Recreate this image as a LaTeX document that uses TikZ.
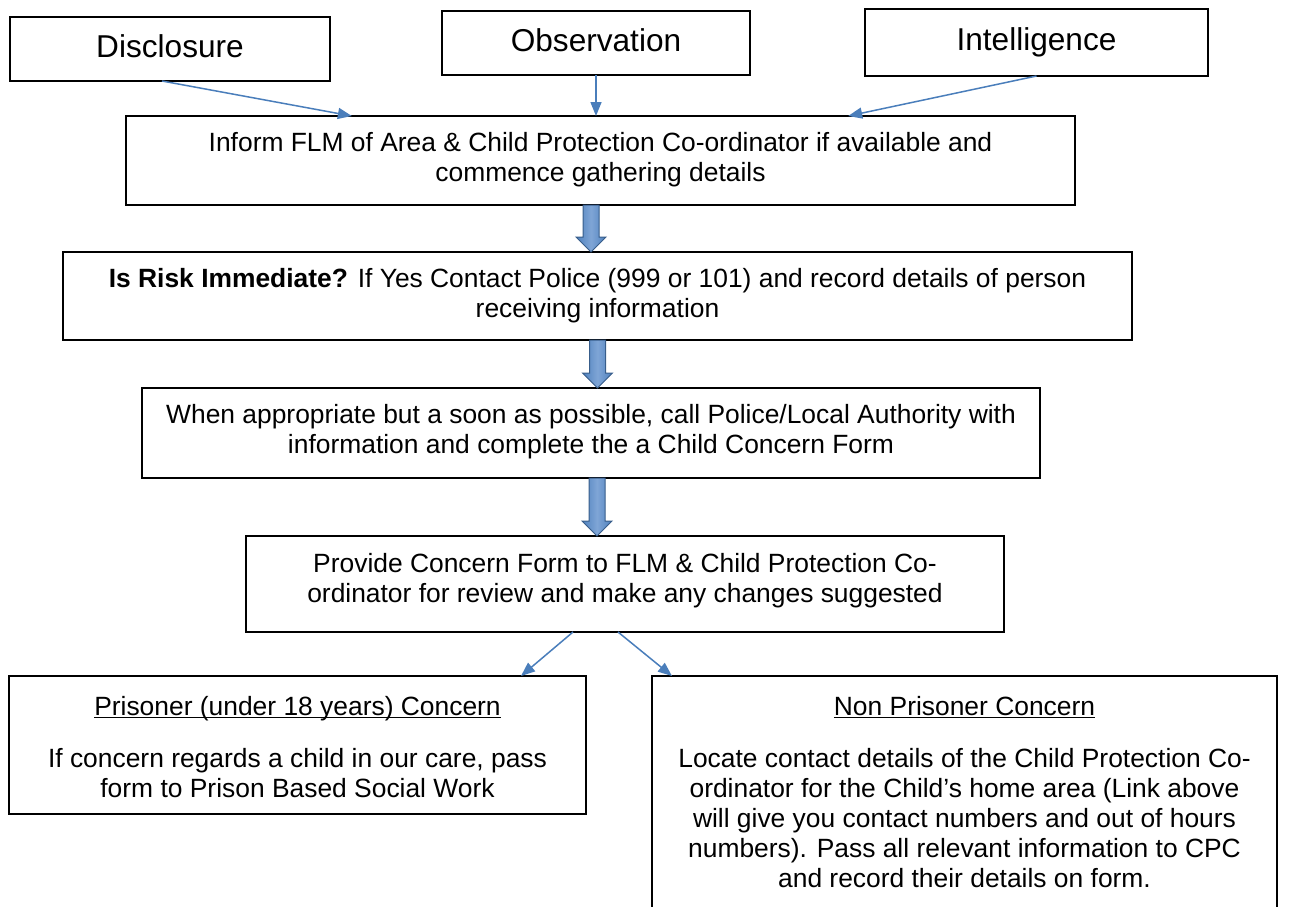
\documentclass[tikz,border=0pt]{standalone}
\usepackage{fontspec}
\setmainfont{Liberation Sans}
\usetikzlibrary{positioning,calc,arrows.meta}

\definecolor{linkblue}{HTML}{4A7EBB}
\definecolor{blockblue}{HTML}{4F81BD}
\definecolor{blockedge}{HTML}{385D8A}
\definecolor{blocklite}{HTML}{7FA5D6}

\newcommand{\bodysize}{\fontsize{26.4}{30}\selectfont}
\newcommand{\headsize}{\fontsize{31.6}{36}\selectfont}
\newcommand{\ulin}[1]{\setbox0\hbox{#1}\rlap{\rule[-3pt]{\wd0}{1.3pt}}\box0}
% fat down arrow from #1 (top) to #2 (tip)
\newcommand{\blockarr}[2]{%
  \path[blockarrow] ($(#1)+(-8,0)$) -- ($(#2)+(-8,-15)$) -- ($(#2)+(-15,-15)$) -- (#2)
    -- ($(#2)+(15,-15)$) -- ($(#2)+(8,-15)$) -- ($(#1)+(8,0)$) -- cycle;}

\begin{document}
\begin{tikzpicture}[x=1pt,y=1pt,yscale=-1,
  box/.style={draw,line width=1.3pt,inner sep=0pt,outer sep=0pt},
  headbox/.style={box,font=\headsize,text height=23pt,text depth=7pt},
  txt/.style={font=\bodysize,align=center,inner sep=0pt,outer sep=0pt},
  feed/.style={draw=linkblue,line width=1.5pt,-{Triangle[length=14pt,width=11pt]}},
  blockarrow/.style={draw=blockedge,line width=1pt,left color=blockblue,right color=blockblue,middle color=blocklite}]

\useasboundingbox (0,0) rectangle (1293,906);

% where the concern comes from
\node[headbox,minimum width=320,minimum height=64] (disc) at (170,49) {Disclosure};
\node[headbox,minimum width=308,minimum height=64] (obs) at (596,43) {Observation};
\node[headbox,minimum width=343,minimum height=67] (intel) at (1036.5,42.5) {Intelligence};

% steps
\node[box,minimum width=949,minimum height=89] (inform) at (600.5,160.5) {};
\node[txt,below=16pt of inform.north] (inform-t) {Inform FLM of Area \& Child Protection Co-ordinator if available and\\commence gathering details};

\node[box,minimum width=1069,minimum height=88] (risk) at (597.5,296) {};
\node[txt,below=16pt of risk.north] (risk-t) {\textbf{Is Risk Immediate?} If Yes Contact Police (999 or 101) and record details of person\\receiving information};

\node[box,minimum width=898,minimum height=90] (when) at (591,433) {};
\node[txt,below=16pt of when.north] (when-t) {When appropriate but a soon as possible, call Police/Local Authority with\\information and complete the a Child Concern Form};

\node[box,minimum width=758,minimum height=96] (provide) at (625,584) {};
\node[txt,below=17pt of provide.north] (provide-t) {Provide Concern Form to FLM \& Child Protection Co-\\ordinator for review and make any changes suggested};

% outcomes
\node[box,minimum width=577,minimum height=138] (pris) at (297.5,745) {};
\node[txt,below=20pt of pris.north] (pris-t) {\ulin{Prisoner (under 18 years) Concern}\\[22pt]If concern regards a child in our care, pass\\form to Prison Based Social Work};

\node[box,minimum width=625,minimum height=236] (nonp) at (964.5,794) {};
\node[txt,below=20pt of nonp.north] (nonp-t) {\ulin{Non Prisoner Concern}\\[22pt]Locate contact details of the Child Protection Co-\\ordinator for the Child’s home area (Link above\\will give you contact numbers and out of hours\\numbers). Pass all relevant information to CPC\\and record their details on form.};

% thin arrows
\draw[feed] ([xshift=-8pt]disc.south) -- ($(inform.north west)!0.238!(inform.north east)$);
\draw[feed] (obs.south) -- (obs.south |- inform.north);
\draw[feed] (intel.south) -- ($(inform.north west)!0.761!(inform.north east)$);
\draw[feed] ([xshift=-52pt]provide.south) -- ([xshift=-65pt]pris.north east);
\draw[feed] ([xshift=-7pt]provide.south) -- ([xshift=20pt]nonp.north west);

% block arrows
\coordinate (a1s) at ([xshift=-9.5pt]inform.south);
\coordinate (a1e) at (a1s |- risk.north);
\coordinate (a2s) at (risk.south);
\coordinate (a2e) at (a2s |- when.north);
\coordinate (a3s) at ([xshift=6pt]when.south);
\coordinate (a3e) at (a3s |- provide.north);
\blockarr{a1s}{a1e}
\blockarr{a2s}{a2e}
\blockarr{a3s}{a3e}

\end{tikzpicture}
\end{document}
